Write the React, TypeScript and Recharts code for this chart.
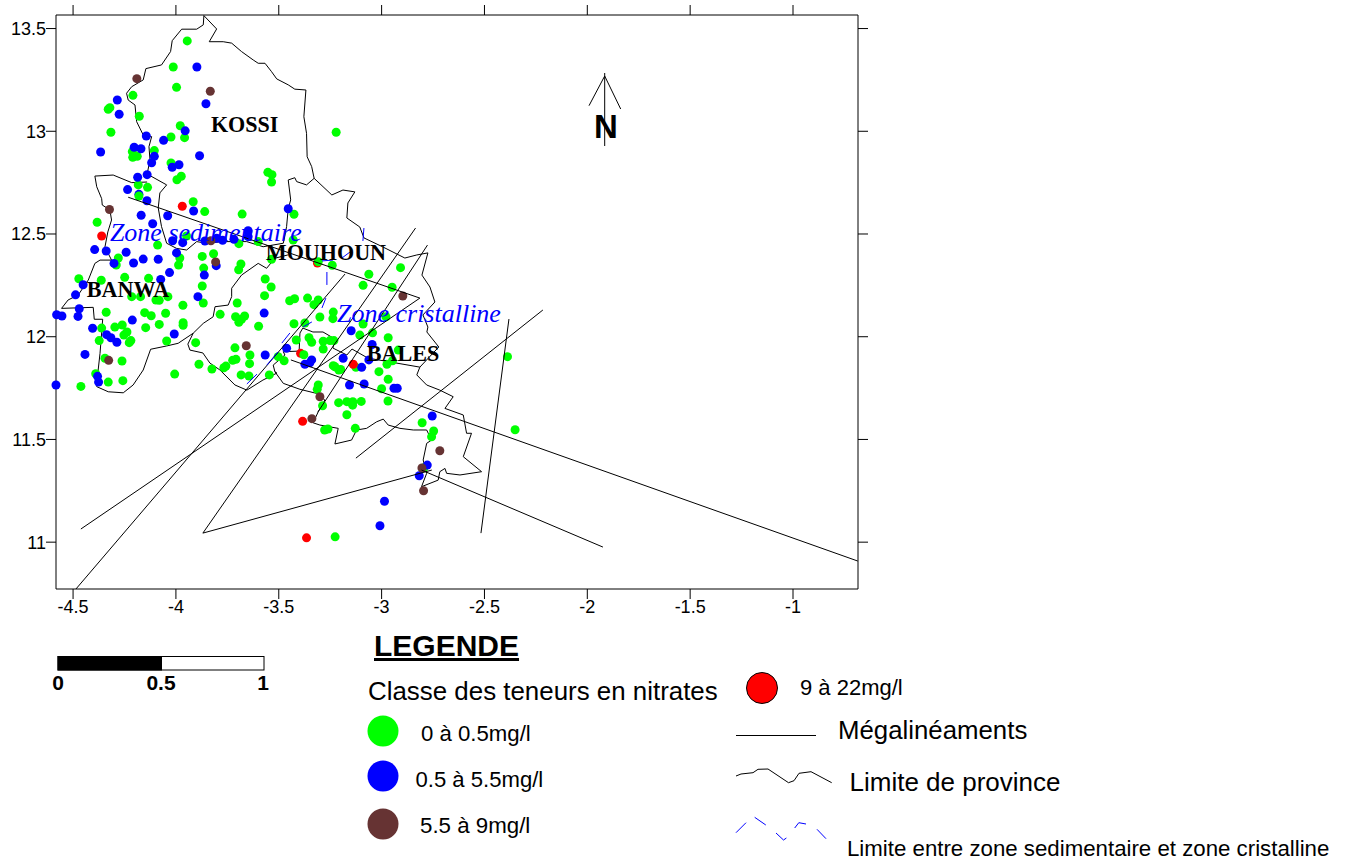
// App.tsx - nitrate map, Mouhoun basin
import { ScatterChart, Scatter, XAxis, YAxis } from 'recharts';

type Pt = [number, number];

const xTicks = [-4.5, -4, -3.5, -3, -2.5, -2, -1.5, -1];
const yTicks = [11, 11.5, 12, 12.5, 13, 13.5];

const greenWells: Pt[] = [
  [-3.945,13.44],[-4.013,13.313],[-3.997,13.214],[-4.209,13.175],[-4.321,13.115],[-4.329,13.107],[-4.178,13.073],[-4.316,12.995],
  [-3.979,13.027],[-4.024,12.972],[-3.958,12.969],[-4.105,12.906],[-4.212,12.901],[-4.21,12.873],[-4.188,12.878],[-4.024,12.846],
  [-3.553,12.8],[-3.533,12.789],[-3.535,12.753],[-3.974,12.781],[-3.995,12.764],[-4.183,12.739],[-4.138,12.727],
  [-3.916,12.657],[-3.86,12.609],[-3.221,12.995],[-3.678,12.597],[-4.383,12.557],[-3.426,12.596],[-3.948,12.49],[-4.089,12.446],
  [-3.694,12.453],[-3.43,12.471],[-3.872,12.391],[-3.817,12.404],[-4.28,12.383],[-4.29,12.349],[-3.981,12.383],[-3.987,12.349],
  [-3.865,12.334],[-3.684,12.354],[-3.695,12.326],[-3.535,12.377],[-4.472,12.282],[-4.363,12.275],[-4.249,12.289],[-4.133,12.284],
  [-3.566,12.281],[-3.537,12.242],[-3.872,12.247],[-3.569,12.2],[-4.215,12.195],[-4.172,12.195],[-4.097,12.179],[-4.081,12.177],
  [-4.039,12.195],[-3.867,12.164],[-3.447,12.175],[-3.423,12.185],[-3.702,12.164],[-3.966,12.153],[-4.339,12.119],[-4.152,12.117],
  [-4.12,12.102],[-4.05,12.114],[-3.785,12.109],[-3.71,12.097],[-3.666,12.101],[-3.681,12.085],[-3.694,12.07],[-3.965,12.068],
  [-3.965,12.056],[-3.426,12.063],[-4.081,12.06],[-4.147,12.044],[-3.598,12.051],[-4.297,12.047],[-4.261,12.057],[-4.361,12.042],
  [-4.238,12.023],[-4.253,12.008],[-4.373,11.981],[-4.219,11.981],[-4.227,11.971],[-4.045,11.979],[-3.904,11.971],[-3.713,11.946],
  [-3.415,11.984],[-3.64,11.911],[-3.503,11.903],[-3.474,11.883],[-4.345,11.895],[-4.262,11.882],[-3.888,11.866],[-3.708,11.89],
  [-3.724,11.885],[-3.642,11.869],[-3.757,11.857],[-3.767,11.849],[-3.825,11.843],[-4.39,11.82],[-4.006,11.818],[-3.683,11.814],
  [-3.645,11.809],[-3.546,11.814],[-4.258,11.786],[-4.329,11.779],[-4.462,11.758],[-3.6,12.463],[-3.308,12.365],[-3.24,12.348],
  [-2.908,12.336],[-3.062,12.304],[-2.949,12.241],[-3.09,12.25],[-3.36,12.188],[-3.308,12.179],[-3.329,12.156],[-3.3,12.096],
  [-3.235,12.12],[-3.237,12.088],[-3.373,12.067],[-3.353,11.995],[-3.34,11.973],[-3.284,11.978],[-3.251,11.981],[-3.232,11.981],
  [-3.284,11.94],[-3.09,12.062],[-3.106,12.008],[-3.044,12.019],[-2.968,11.995],[-2.979,12.097],[-3.378,11.912],[-3.235,11.859],
  [-3.227,11.854],[-3.208,11.838],[-3.199,11.841],[-3.125,11.851],[-2.974,11.866],[-2.947,11.883],[-3.013,11.83],[-2.968,11.793],
  [-2.919,11.935],[-3,11.747],[-2.969,11.687],[-3.308,11.765],[-3.313,11.744],[-3.287,11.664],[-3.209,11.679],[-3.169,11.684],
  [-3.14,11.684],[-3.141,11.667],[-3.099,11.685],[-3.169,11.62],[-3.128,11.554],[-3.277,11.546],[-3.261,11.551],[-2.803,11.581],
  [-2.747,11.541],[-2.757,11.513],[-2.351,11.547],[-2.388,11.903],[-2.794,11.362],[-3.226,11.026],
];

// this one sits on top of the blue well next to it
const greenOverBlue: Pt[] = [[-4.18,12.685]];

const blueWells: Pt[] = [
  [-3.898,13.313],[-4.285,13.152],[-4.276,13.083],[-3.854,13.134],[-3.955,13.002],[-4.144,12.977],[-4.06,12.956],[-4.203,12.922],
  [-4.17,12.915],[-4.366,12.899],[-3.885,12.881],[-4.105,12.878],[-4.118,12.847],[-3.985,12.837],[-4.018,12.825],[-4.14,12.789],
  [-4.186,12.776],[-4.235,12.716],[-4.18,12.693],[-4.141,12.662],[-3.914,12.612],[-3.454,12.623],[-4.169,12.591],[-4.04,12.589],
  [-4.113,12.55],[-3.649,12.516],[-3.649,12.487],[-4.016,12.467],[-3.967,12.458],[-3.859,12.466],[-3.773,12.469],[-3.718,12.474],
  [-3.802,12.479],[-4.395,12.424],[-4.339,12.417],[-4.242,12.411],[-3.997,12.408],[-4.159,12.378],[-4.086,12.377],[-4.206,12.359],
  [-4.301,12.357],[-3.804,12.346],[-4.031,12.312],[-3.862,12.3],[-4.074,12.279],[-4.451,12.253],[-4.488,12.204],[-3.893,12.195],
  [-4.47,12.136],[-4.476,12.099],[-4.58,12.107],[-4.554,12.101],[-3.571,12.115],[-4.212,12.081],[-4.405,12.041],[-4.337,12.01],
  [-4.316,11.995],[-4.287,11.973],[-4.008,12.013],[-4.442,11.914],[-3.566,11.911],[-3.462,11.944],[-4.381,11.807],[-4.376,11.779],
  [-4.583,11.765],[-3.148,12.029],[-3.046,11.962],[-3.373,11.866],[-3.34,11.887],[-3.349,11.873],[-3.187,11.895],[-3.097,11.851],
  [-3.062,11.887],[-3.156,11.765],[-3.085,11.77],[-2.94,11.749],[-2.924,11.749],[-2.754,11.614],[-2.778,11.375],[-2.817,11.323],
  [-2.986,11.199],[-3.008,11.08],
];

const brownWells: Pt[] = [
  [-4.19,13.256],[-3.833,13.195],[-4.323,12.619],[-3.83,12.467],[-3.807,12.364],[-3.658,11.956],[-4.327,11.885],[-2.897,12.198],
  [-3.3,11.708],[-3.339,11.601],[-2.717,11.445],[-2.804,11.361],[-2.796,11.25],
];

const redWells: Pt[] = [
  [-3.969,12.635],[-4.361,12.49],[-3.138,11.866],[-3.384,11.588],[-3.365,11.021],
];

// red wells partly hidden under green ones
const redUnderGreen: Pt[] = [[-3.312,12.359],[-3.394,11.919]];

const kossiBorder: Pt[] = [
  [-3.864,13.563],[-3.802,13.498],[-3.838,13.436],[-3.77,13.436],[-3.729,13.429],[-3.681,13.388],[-3.624,13.347],[-3.6,13.331],
  [-3.567,13.331],[-3.535,13.29],[-3.51,13.255],[-3.454,13.226],[-3.422,13.205],[-3.368,13.201],[-3.378,13.071],[-3.365,12.99],
  [-3.362,12.876],[-3.34,12.828],[-3.328,12.771],[-3.365,12.739],[-3.413,12.755],[-3.422,12.774],[-3.454,12.763],[-3.442,12.666],
  [-3.454,12.623],[-3.462,12.536],[-3.478,12.455],[-3.576,12.438],[-3.656,12.463],[-3.77,12.463],[-3.851,12.455],[-3.899,12.463],
  [-3.948,12.422],[-3.997,12.43],[-4.045,12.455],[-4.07,12.536],[-4.086,12.627],[-4.078,12.7],[-4.045,12.739],[-4.14,12.792],
  [-4.126,12.86],[-4.131,12.925],[-4.118,12.974],[-4.159,12.982],[-4.191,13.047],[-4.199,13.128],[-4.232,13.152],[-4.24,13.185],
  [-4.215,13.217],[-4.159,13.25],[-4.146,13.305],[-4.07,13.323],[-4.026,13.388],[-4.018,13.441],[-3.972,13.497],[-3.899,13.497],
  [-3.867,13.518],[-3.864,13.563],
];

const banwaBorder: Pt[] = [
  [-4.14,12.753],[-4.215,12.75],[-4.305,12.787],[-4.394,12.782],[-4.385,12.73],[-4.361,12.672],[-4.358,12.641],[-4.321,12.617],
  [-4.313,12.568],[-4.331,12.51],[-4.345,12.437],[-4.313,12.373],[-4.369,12.373],[-4.394,12.357],[-4.426,12.276],[-4.475,12.203],
  [-4.524,12.179],[-4.556,12.138],[-4.402,12.143],[-4.397,12.085],[-4.356,12.085],[-4.369,11.919],[-4.378,11.838],[-4.385,11.757],
  [-4.329,11.732],[-4.256,11.727],[-4.208,11.765],[-4.159,11.838],[-4.123,11.939],[-4.045,11.955],[-3.989,11.968],[-3.916,12.017],
  [-3.867,12.065],[-3.819,12.097],[-3.81,12.146],[-3.746,12.154],[-3.729,12.195],[-3.729,12.236],[-3.681,12.3],[-3.6,12.357],
  [-3.559,12.333],[-3.519,12.382],[-3.456,12.398],
];

const balesWest: Pt[] = [
  [-3.916,12.017],[-3.942,11.964],[-3.932,11.935],[-3.869,11.921],[-3.835,11.872],[-3.786,11.838],[-3.713,11.765],[-3.655,11.74],
  [-3.577,11.789],[-3.509,11.823],[-3.519,11.83],
];

const mouhounEast: Pt[] = [
  [-3.328,12.771],[-3.242,12.69],[-3.188,12.714],[-3.13,12.705],[-3.164,12.651],[-3.169,12.578],[-3.106,12.534],[-3.086,12.481],
  [-2.994,12.437],[-2.887,12.383],[-2.829,12.398],[-2.775,12.408],[-2.804,12.3],[-2.765,12.242],[-2.741,12.169],[-2.799,12.106],
  [-2.775,12.047],[-2.78,12.023],[-2.722,11.95],[-2.814,11.852],[-2.829,11.814],[-2.781,11.765],[-2.717,11.74],[-2.652,11.708],
  [-2.692,11.651],[-2.603,11.619],[-2.587,11.53],[-2.563,11.53],[-2.603,11.416],[-2.514,11.343],[-2.619,11.327],[-2.684,11.335],
  [-2.692,11.359],[-2.717,11.343],[-2.725,11.302],[-2.806,11.27],[-2.781,11.335],[-2.798,11.4],[-2.781,11.481],[-2.757,11.497],
  [-2.781,11.546],[-2.846,11.546],[-2.911,11.554],[-2.968,11.57],[-2.992,11.599],[-3.024,11.586],[-3.073,11.554],[-3.122,11.546],
  [-3.146,11.497],[-3.227,11.478],[-3.211,11.554],[-3.3,11.57],[-3.333,11.581],[-3.308,11.635],[-3.276,11.692],[-3.316,11.724],
  [-3.397,11.744],[-3.478,11.773],[-3.519,11.83],[-3.527,11.862],[-3.47,11.911],[-3.478,11.927],[-3.401,11.93],[-3.397,12.018],
  [-3.383,12.042],[-3.334,12.023],[-3.285,12.023],[-3.227,11.989],[-3.237,11.945],[-3.169,11.911],[-3.144,11.94],[-3.067,11.896],
  [-2.814,11.852],
];

const megalineaments: Pt[][] = [
  [[-4.462,11.064],[-2.814,12.188]],
  [[-4.486,10.772],[-3.178,12.305]],
  [[-3.869,11.044],[-2.835,12.529]],
  [[-2.777,12.446],[-3.31,11.633]],
  [[-3.125,11.409],[-2.216,12.13]],
  [[-2.517,11.044],[-2.381,12.086]],
  [[-3.869,11.044],[-2.756,11.351]],
  [[-2.806,11.351],[-1.924,10.976]],
  [[-3.441,11.887],[-0.685,10.908]],
  [[-4.232,12.679],[-2.814,12.188]],
];

const zoneLimit: Pt[][] = [
  [[-3.086,12.529],[-3.091,12.466]],
  [[-3.193,12.383],[-3.154,12.412]],
  [[-3.29,12.369],[-3.237,12.373]],
  [[-3.266,12.315],[-3.266,12.252]],
  [[-3.271,12.188],[-3.29,12.14]],
  [[-3.339,12.072],[-3.383,12.047]],
  [[-3.446,12.018],[-3.485,11.969]],
  [[-3.504,11.926],[-3.558,11.862]],
  [[-3.606,11.818],[-3.655,11.77]],
];

const provinceNames = [
  { x: -3.83, y: 12.997, text: 'KOSSI' },
  { x: -3.563, y: 12.373, text: 'MOUHOUN' },
  { x: -4.433, y: 12.195, text: 'BANWA' },
  { x: -3.072, y: 11.882, text: 'BALES' },
];

const zoneNames = [
  { x: -4.321, y: 12.467, text: 'Zone sedimentaire' },
  { x: -3.217, y: 12.072, text: 'Zone cristalline' },
];

const SANS = '"Liberation Sans", Arial, sans-serif';
const SERIF = '"Liberation Serif", "Times New Roman", serif';

const toPoints = (pts: Pt[]) => pts.map(([x, y]) => ({ x, y }));

const Dot = (color: string) => (props: any) => <circle cx={props.cx} cy={props.cy} r={4.5} fill={color} />;
const NoDot = () => null;

const ProvinceLabel = (props: any) => (
  <text x={props.cx} y={props.cy} fontFamily={SERIF} fontWeight="bold" fontSize={22.1} fill="#000">
    {props.payload.text}
  </text>
);

const ZoneLabel = (props: any) => (
  <text x={props.cx} y={props.cy} fontFamily={SERIF} fontStyle="italic" fontSize={26} fill="#0000ff">
    {props.payload.text}
  </text>
);

const Polyline = (pts: Pt[], key: string, stroke: string, width = 1) => (
  <Scatter
    key={key}
    data={toPoints(pts)}
    line={{ stroke, strokeWidth: width }}
    shape={NoDot}
    isAnimationActive={false}
  />
);

const tickStyle = { fontFamily: SANS, fontSize: 18, fill: '#000' };
const emptyTick = () => '';

function LegendOverlay() {
  const text = (x: number, y: number, size: number, label: string, extra: any = {}) => (
    <text x={x} y={y} fontFamily={SANS} fontSize={size} fill="#000" {...extra}>{label}</text>
  );
  return (
    <svg width={1345} height={861} style={{ position: 'absolute', left: 0, top: 0, pointerEvents: 'none' }}>
      {/* north arrow */}
      <path d="M604.7 73V146M589 105.7L604.7 76L620.7 109" fill="none" stroke="#000" strokeWidth={1} />
      {text(594, 138, 33, 'N', { fontWeight: 'bold' })}

      {/* scale bar */}
      <rect x={58} y={656.5} width={206} height={13.5} fill="#fff" stroke="#000" />
      <rect x={58} y={656.5} width={103.5} height={13.5} fill="#000" stroke="#000" />
      {text(58, 690, 21, '0', { fontWeight: 'bold', textAnchor: 'middle' })}
      {text(161, 690, 21, '0.5', { fontWeight: 'bold', textAnchor: 'middle' })}
      {text(263, 690, 21, '1', { fontWeight: 'bold', textAnchor: 'middle' })}

      {text(374, 656, 30, 'LEGENDE', { fontWeight: 'bold', textDecoration: 'underline' })}
      {text(368, 700, 25.9, 'Classe des teneurs en nitrates')}

      <circle cx={383} cy={731} r={15.5} fill="#00ff00" />
      <circle cx={383} cy={776} r={15.5} fill="#0000ff" />
      <circle cx={383} cy={824} r={15.5} fill="#663333" />
      <circle cx={762} cy={688} r={15.5} fill="#ff0000" stroke="#000" />
      {text(421, 740.5, 22.2, '0 à 0.5mg/l')}
      {text(415.5, 787, 22.1, '0.5 à 5.5mg/l')}
      {text(420, 833, 22.3, '5.5 à 9mg/l')}
      {text(800, 695, 22, '9 à 22mg/l')}

      <line x1={736} y1={735.5} x2={816} y2={735.5} stroke="#000" />
      {text(838, 739, 25.8, 'Mégalinéaments')}

      <path d="M736 776L741 774L753 772.7L758 769.3L768 769L788.5 782.7L794 780.7L799 773.3L811 771.7L831.7 782.7" fill="none" stroke="#000" />
      {text(849.5, 791, 26, 'Limite de province')}

      <path
        d="M736 832.7L746 822.7M754.7 817.3L765.8 825M776 833L783.5 840L786.4 838M794.7 828L798.8 822.7L806 824M817 829.3L826 838.7"
        fill="none"
        stroke="#0000ff"
      />
      {text(847, 856, 22.25, 'Limite entre zone sedimentaire et zone cristalline')}
    </svg>
  );
}

export default function App() {
  return (
    <div style={{ position: 'absolute', left: 0, top: 0, width: 1345, height: 861, background: '#fff' }}>
      <ScatterChart
        width={1345}
        height={861}
        margin={{ top: 0, right: 477, bottom: 242, left: 0 }}
      >
        <XAxis
          dataKey="x"
          type="number"
          domain={[-4.583, -0.684]}
          ticks={xTicks}
          tick={tickStyle}
          tickSize={10}
          tickMargin={1}
          height={30}
          stroke="#000"
          interval={0}
        />
        <XAxis
          xAxisId="top"
          dataKey="x"
          orientation="top"
          type="number"
          domain={[-4.583, -0.684]}
          ticks={xTicks}
          tickFormatter={emptyTick}
          tickSize={10}
          height={15}
          stroke="#000"
          interval={0}
        />
        <YAxis
          dataKey="y"
          type="number"
          domain={[10.772, 13.566]}
          ticks={yTicks}
          tick={tickStyle}
          tickSize={10}
          tickMargin={0}
          width={56}
          stroke="#000"
          interval={0}
        />
        <YAxis
          yAxisId="right"
          dataKey="y"
          orientation="right"
          type="number"
          domain={[10.772, 13.566]}
          ticks={yTicks}
          tickFormatter={emptyTick}
          tickSize={10}
          width={10}
          stroke="#000"
          interval={0}
        />

        {/* keeps the top and right frame axes attached to a series */}
        <Scatter
          xAxisId="top"
          yAxisId="right"
          data={toPoints(redWells)}
          shape={NoDot}
          isAnimationActive={false}
        />

        {Polyline(kossiBorder, 'kossi', '#000')}
        {Polyline(banwaBorder, 'banwa', '#000')}
        {Polyline(balesWest, 'balesWest', '#000')}
        {Polyline(mouhounEast, 'mouhoun', '#000')}

        <Scatter data={toPoints(redUnderGreen)} shape={Dot('#ff0000')} isAnimationActive={false} />
        <Scatter data={toPoints(greenWells)} shape={Dot('#00ff00')} isAnimationActive={false} />
        <Scatter data={toPoints(blueWells)} shape={Dot('#0000ff')} isAnimationActive={false} />
        <Scatter data={toPoints(greenOverBlue)} shape={Dot('#00ff00')} isAnimationActive={false} />
        <Scatter data={toPoints(brownWells)} shape={Dot('#663333')} isAnimationActive={false} />
        <Scatter data={toPoints(redWells)} shape={Dot('#ff0000')} isAnimationActive={false} />

        {megalineaments.map((seg, i) => Polyline(seg, `meg${i}`, '#000'))}
        {zoneLimit.map((seg, i) => Polyline(seg, `zone${i}`, '#0000ff'))}

        <Scatter data={zoneNames} shape={ZoneLabel} isAnimationActive={false} />
        <Scatter data={provinceNames} shape={ProvinceLabel} isAnimationActive={false} />
      </ScatterChart>
      <LegendOverlay />
    </div>
  );
}
